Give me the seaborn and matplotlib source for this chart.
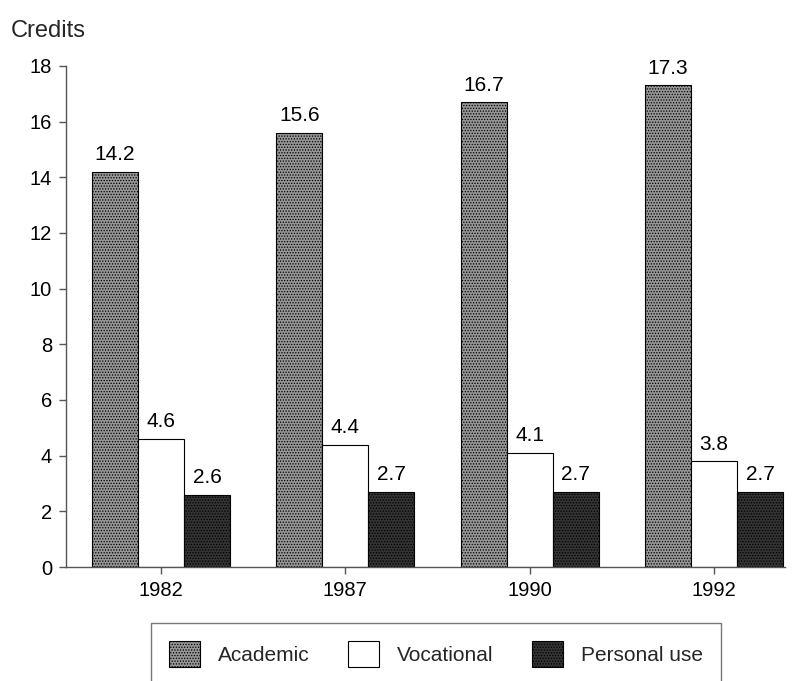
import matplotlib
matplotlib.use("Agg")
import matplotlib.pyplot as plt
from matplotlib.patches import Patch
import seaborn as sns
import pandas as pd

# Average credits earned by high school graduates, by course type
years = ["1982", "1987", "1990", "1992"]
categories = ["Academic", "Vocational", "Personal use"]
academic = [14.2, 15.6, 16.7, 17.3]
vocational = [4.6, 4.4, 4.1, 3.8]
personal_use = [2.6, 2.7, 2.7, 2.7]

df = pd.DataFrame({
    "Year": years * 3,
    "Type": [c for c in categories for _ in years],
    "Credits": academic + vocational + personal_use,
})

sns.set_theme(style="white")
plt.rcParams["font.family"] = ["Liberation Sans", "DejaVu Sans"]
plt.rcParams["hatch.linewidth"] = 0.6

fills = {"Academic": "#969696", "Vocational": "#ffffff", "Personal use": "#333333"}
hatches = {"Academic": "......", "Vocational": "", "Personal use": "......"}

fig = plt.figure(figsize=(7.94, 6.81), dpi=100)
ax = fig.add_axes([0.0831, 0.1674, 0.9056, 0.7357])

sns.barplot(data=df, x="Year", y="Credits", hue="Type", hue_order=categories,
            palette=fills, width=0.75, edgecolor="black", linewidth=0.8,
            saturation=1, legend=False, ax=ax)

for cont, cat in zip(ax.containers, categories):
    for bar in cont:
        bar.set_hatch(hatches[cat])
    ax.bar_label(cont, labels=[f"{v:.1f}" for v in cont.datavalues],
                 padding=5.5, fontsize=15, color="black")

ax.set_ylim(0, 18)
ax.set_xlim(-0.515, 3.385)
ax.set_yticks(range(0, 19, 2))
ax.set_xlabel("")
ax.set_ylabel("")
ax.tick_params(axis="both", which="both", direction="out", length=5, width=1,
               colors="#555555", labelcolor="black", labelsize=14.5, left=True,
               bottom=True, pad=5)
for side in ("top", "right"):
    ax.spines[side].set_visible(False)
for side in ("left", "bottom"):
    ax.spines[side].set_color("#555555")
    ax.spines[side].set_linewidth(1)

fig.text(0.014, 0.955, "Credits", fontsize=17, ha="left", va="center")

handles = [Patch(facecolor=fills[c], edgecolor="black", linewidth=0.8,
                 hatch=hatches[c], label=c) for c in categories]
leg = fig.legend(handles=handles, loc="upper center",
                 bbox_to_anchor=(0.549, 1 - 623 / 681),
                 bbox_transform=fig.transFigure, ncol=3, frameon=True,
                 fancybox=False, fontsize=15, handlelength=1.5,
                 handleheight=1.55, handletextpad=0.87, columnspacing=1.83,
                 borderpad=0.85, borderaxespad=0)
leg.get_frame().set_edgecolor("#555555")
leg.get_frame().set_linewidth(1)

fig.savefig("out.png", dpi=100)
